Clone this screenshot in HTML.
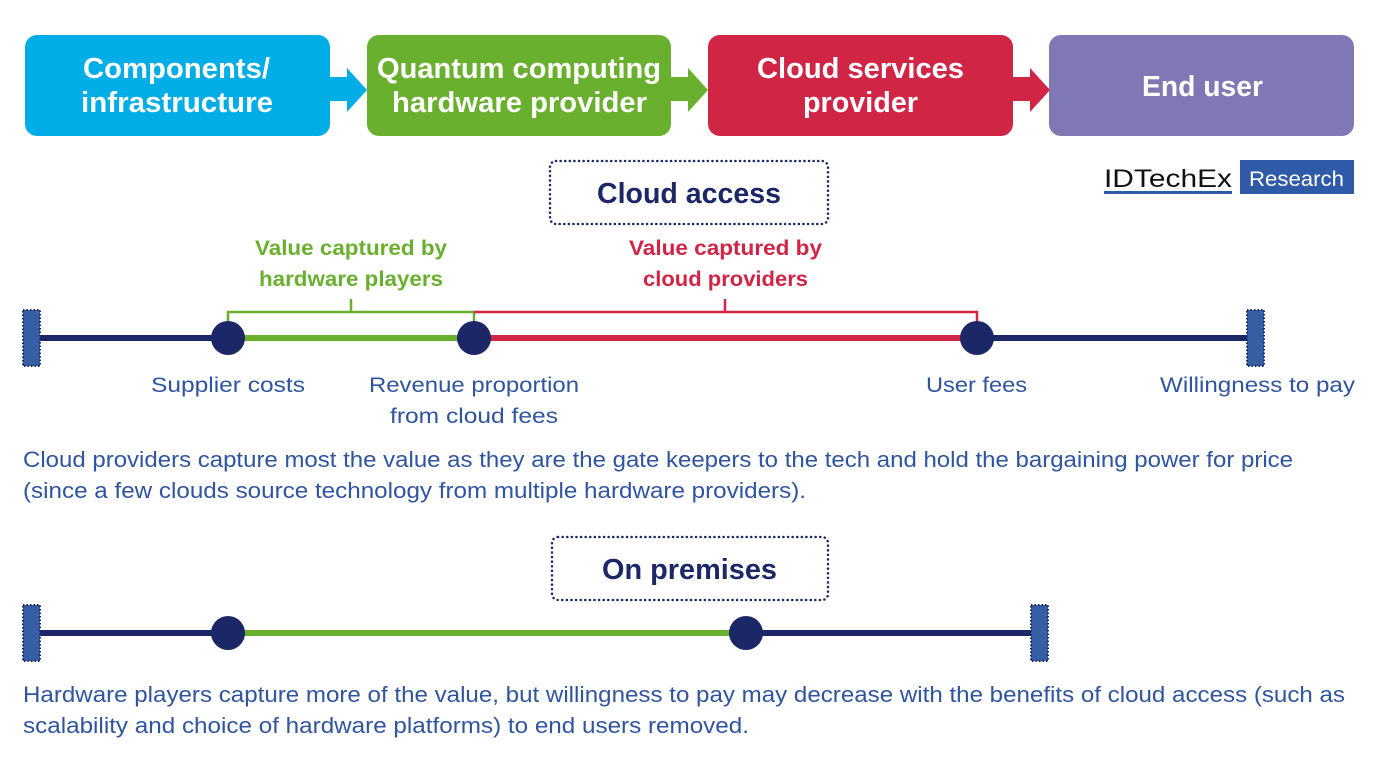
<!DOCTYPE html>
<html><head><meta charset="utf-8"><style>
html,body{margin:0;padding:0;background:#fff;}
svg{display:block;font-family:"Liberation Sans",Arial,sans-serif;}
</style></head><body>
<svg width="1378" height="776" viewBox="0 0 1378 776" xmlns="http://www.w3.org/2000/svg">
<rect x="25" y="35" width="305" height="101" rx="12" fill="#00ade6"/>
<rect x="367" y="35" width="304" height="101" rx="12" fill="#6ab02f"/>
<rect x="708" y="35" width="305" height="101" rx="12" fill="#d02545"/>
<rect x="1049" y="35" width="305" height="101" rx="12" fill="#7f78b5"/>
<polygon points="330,77 347,77 347,68 367,90 347,112 347,101 330,101" fill="#00ade6"/>
<polygon points="671,77 688,77 688,68 708,90 688,112 688,101 671,101" fill="#6ab02f"/>
<polygon points="1013,77 1030,77 1030,68 1050,90 1030,112 1030,101 1013,101" fill="#d02545"/>
<g fill="#fff" font-weight="bold" font-size="29" lengthAdjust="spacingAndGlyphs">
<text x="83" y="78" textLength="187" lengthAdjust="spacingAndGlyphs">Components/</text>
<text x="81" y="112" textLength="192" lengthAdjust="spacingAndGlyphs">infrastructure</text>
<text x="377" y="78" textLength="284" lengthAdjust="spacingAndGlyphs">Quantum computing</text>
<text x="392" y="112" textLength="255" lengthAdjust="spacingAndGlyphs">hardware provider</text>
<text x="757" y="78" textLength="207" lengthAdjust="spacingAndGlyphs">Cloud services</text>
<text x="803" y="112" textLength="115" lengthAdjust="spacingAndGlyphs">provider</text>
<text x="1142" y="96" textLength="121" lengthAdjust="spacingAndGlyphs">End user</text>
</g>
<text x="1104" y="187" font-size="25" fill="#111" textLength="128" lengthAdjust="spacingAndGlyphs">IDTechEx</text>
<rect x="1104" y="191" width="128" height="3" fill="#2f5aa8"/>
<rect x="1240" y="160" width="114" height="34" fill="#2f5aa8"/>
<text x="1249" y="186" font-size="21" fill="#fff" textLength="95" lengthAdjust="spacingAndGlyphs">Research</text>
<rect x="550" y="161" width="278" height="63" rx="6" fill="none" stroke="#1b2766" stroke-width="2.5" stroke-dasharray="0.1 4.5" stroke-linecap="round"/>
<text x="597" y="203" font-size="29" font-weight="bold" fill="#1b2766" textLength="184" lengthAdjust="spacingAndGlyphs">Cloud access</text>
<rect x="552" y="537" width="276" height="63" rx="6" fill="none" stroke="#1b2766" stroke-width="2.5" stroke-dasharray="0.1 4.5" stroke-linecap="round"/>
<text x="602" y="579" font-size="29" font-weight="bold" fill="#1b2766" textLength="175" lengthAdjust="spacingAndGlyphs">On premises</text>
<g font-size="21" font-weight="bold">
<text x="255" y="255" fill="#6ab02f" textLength="192" lengthAdjust="spacingAndGlyphs">Value captured by</text>
<text x="259" y="286" fill="#6ab02f" textLength="184" lengthAdjust="spacingAndGlyphs">hardware players</text>
<text x="629" y="255" fill="#d02545" textLength="193" lengthAdjust="spacingAndGlyphs">Value captured by</text>
<text x="643" y="286" fill="#d02545" textLength="165" lengthAdjust="spacingAndGlyphs">cloud providers</text>
</g>
<polyline points="228,322 228,312 474,312 474,322" fill="none" stroke="#6ab02f" stroke-width="2.5"/>
<line x1="351" y1="312" x2="351" y2="299" stroke="#6ab02f" stroke-width="2.5"/>
<polyline points="474,312 977,312 977,322" fill="none" stroke="#d02545" stroke-width="2.5"/>
<line x1="725" y1="312" x2="725" y2="299" stroke="#d02545" stroke-width="2.5"/>
<line x1="40" y1="338" x2="228" y2="338" stroke="#1b2766" stroke-width="6"/>
<line x1="228" y1="338" x2="474" y2="338" stroke="#6ab02f" stroke-width="6"/>
<line x1="474" y1="338" x2="977" y2="338" stroke="#d02545" stroke-width="6"/>
<line x1="977" y1="338" x2="1247" y2="338" stroke="#1b2766" stroke-width="6"/>
<rect x="23" y="310" width="17" height="56" fill="#355ea5" stroke="#1b2766" stroke-width="2" stroke-dasharray="1.5 2"/>
<rect x="1247" y="310" width="17" height="56" fill="#355ea5" stroke="#1b2766" stroke-width="2" stroke-dasharray="1.5 2"/>
<circle cx="228" cy="338" r="17" fill="#1b2766"/>
<circle cx="474" cy="338" r="17" fill="#1b2766"/>
<circle cx="977" cy="338" r="17" fill="#1b2766"/>
<g font-size="21" fill="#2f54a0">
<text x="151" y="392" textLength="154" lengthAdjust="spacingAndGlyphs">Supplier costs</text>
<text x="369" y="392" textLength="210" lengthAdjust="spacingAndGlyphs">Revenue proportion</text>
<text x="390" y="423" textLength="168" lengthAdjust="spacingAndGlyphs">from cloud fees</text>
<text x="926" y="392" textLength="101" lengthAdjust="spacingAndGlyphs">User fees</text>
<text x="1160" y="392" textLength="195" lengthAdjust="spacingAndGlyphs">Willingness to pay</text>
</g>
<g font-size="22" fill="#2f54a0">
<text x="23" y="467" textLength="1270" lengthAdjust="spacingAndGlyphs">Cloud providers capture most the value as they are the gate keepers to the tech and hold the bargaining power for price</text>
<text x="23" y="498" textLength="783" lengthAdjust="spacingAndGlyphs">(since a few clouds source technology from multiple hardware providers).</text>
<text x="23" y="702" textLength="1322" lengthAdjust="spacingAndGlyphs">Hardware players capture more of the value, but willingness to pay may decrease with the benefits of cloud access (such as</text>
<text x="23" y="733" textLength="726" lengthAdjust="spacingAndGlyphs">scalability and choice of hardware platforms) to end users removed.</text>
</g>
<line x1="40" y1="633" x2="228" y2="633" stroke="#1b2766" stroke-width="6"/>
<line x1="228" y1="633" x2="746" y2="633" stroke="#6ab02f" stroke-width="6"/>
<line x1="746" y1="633" x2="1031" y2="633" stroke="#1b2766" stroke-width="6"/>
<rect x="23" y="605" width="17" height="56" fill="#355ea5" stroke="#1b2766" stroke-width="2" stroke-dasharray="1.5 2"/>
<rect x="1031" y="605" width="17" height="56" fill="#355ea5" stroke="#1b2766" stroke-width="2" stroke-dasharray="1.5 2"/>
<circle cx="228" cy="633" r="17" fill="#1b2766"/>
<circle cx="746" cy="633" r="17" fill="#1b2766"/>
</svg>
</body></html>
